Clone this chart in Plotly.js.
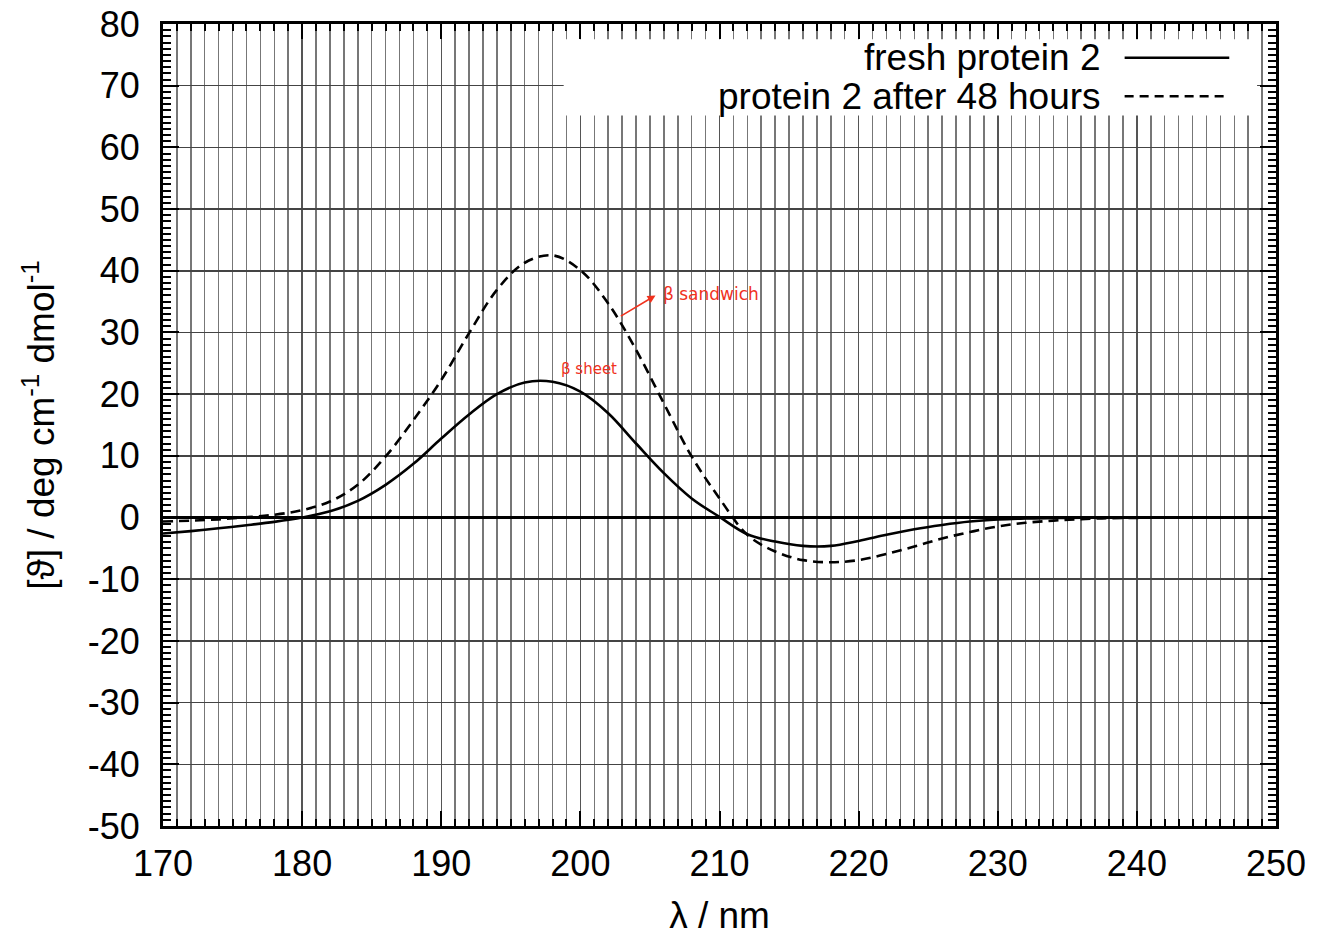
<!DOCTYPE html>
<html>
<head>
<meta charset="utf-8">
<script src="https://cdn.plot.ly/plotly-3.0.1.min.js"></script>
<style>
html,body{margin:0;padding:0;background:#fff;}
#chart{width:1326px;height:939px;}
</style>
</head>
<body>
<div id="chart"></div>
<script>
// Wavelength (nm) and molar ellipticity values
const wavelength = [170,172,174,176,178,180,182,184,186,188,190,192,194,196,198,200,202,204,206,208,210,212,214,216,218,220,222,224,226,228,230,232,234,236,238,240,242,244,246,248,250];
const freshY = [-2.6,-2.2,-1.75,-1.25,-0.7,0.0,1.0,2.7,5.3,8.7,12.8,16.7,20.0,21.9,22.0,20.4,16.9,12.0,7.2,3.1,0.1,-2.7,-3.9,-4.6,-4.6,-3.8,-2.8,-1.9,-1.2,-0.65,-0.32,-0.15,-0.08,-0.03,0,0,0,0,0,0,0];
const agedY = [-0.65,-0.5,-0.3,0.05,0.45,1.2,2.6,5.3,9.9,15.8,22.3,29.9,36.9,41.3,42.5,40.1,34.7,27.2,18.5,9.9,3.1,-2.8,-5.5,-6.9,-7.25,-6.9,-5.9,-4.7,-3.4,-2.35,-1.45,-0.85,-0.5,-0.25,-0.1,-0.05,0,0,0,0,0];

const seriesNames = ["fresh protein 2", "protein 2 after 48 hours"];
const xTickVals = [170,180,190,200,210,220,230,240,250];
const yTickVals = [-50,-40,-30,-20,-10,0,10,20,30,40,50,60,70,80];

// handwritten notes
const noteTexts = ["β sandwich", "β sheet"];
const noteX = [209.4, 200.6];
const noteY = [36.3, 24.0];
const arrowTail = [202.8, 32.5];
const arrowHead = [205.4, 36.0];

const FONT = "Liberation Sans, Arial, Helvetica, sans-serif";
const FS = 36;

const traces = [
  {x: wavelength, y: freshY, name: seriesNames[0], type: "scatter", mode: "lines",
   line: {color: "#000", width: 2.6, shape: "spline", smoothing: 1}},
  {x: wavelength, y: agedY, name: seriesNames[1], type: "scatter", mode: "lines",
   line: {color: "#000", width: 2.6, dash: "10px,6px", shape: "spline", smoothing: 1}}
];

const layout = {
  width: 1326, height: 939,
  margin: {l: 163, r: 50, t: 24, b: 113},
  paper_bgcolor: "#fff", plot_bgcolor: "#fff",
  showlegend: false,
  font: {family: FONT, size: FS, color: "#000"},
  xaxis: {
    range: [170, 250], tickvals: xTickVals, ticktext: xTickVals.map(String),
    ticks: "inside", ticklen: 15, tickwidth: 2, tickcolor: "#000",
    showgrid: true, gridcolor: "#555", gridwidth: 1.5,
    minor: {dtick: 1, ticks: "inside", ticklen: 7, tickwidth: 2, tickcolor: "#000", showgrid: true, gridcolor: "#777", gridwidth: 1.5},
    showline: true, linecolor: "#000", linewidth: 3, mirror: "ticks",
    zeroline: false, ticklabelstandoff: 4,
    tickfont: {family: FONT, size: FS, color: "#000"},
    title: {text: "λ / nm", font: {family: FONT, size: 37, color: "#000"}, standoff: 19}
  },
  yaxis: {
    range: [-50, 80], tickvals: yTickVals, ticktext: yTickVals.map(String),
    ticks: "inside", ticklen: 16, tickwidth: 2, tickcolor: "#000",
    showgrid: true, gridcolor: "#444", gridwidth: 1.5,
    minor: {dtick: 1, ticks: "inside", ticklen: 8, tickwidth: 2, tickcolor: "#000", showgrid: false},
    showline: true, linecolor: "#000", linewidth: 3, mirror: "ticks",
    zeroline: true, zerolinecolor: "#000", zerolinewidth: 2.6,
    ticklabelstandoff: 13,
    tickfont: {family: FONT, size: FS, color: "#000"},
    title: {text: "[ϑ] / deg cm<sup>-1</sup> dmol<sup>-1</sup>", font: {family: FONT, size: 37, color: "#000"}, standoff: 22}
  },
  shapes: [
    // legend box
    {type: "rect", xref: "paper", yref: "paper", x0: 0.360, x1: 0.983, y0: 0.886, y1: 0.981,
     fillcolor: "#fff", line: {width: 0}, layer: "above"},
    {type: "line", xref: "paper", yref: "paper", x0: 0.864, x1: 0.958, y0: 0.958, y1: 0.958,
     line: {color: "#000", width: 2.4}, layer: "above"},
    {type: "line", xref: "paper", yref: "paper", x0: 0.864, x1: 0.958, y0: 0.910, y1: 0.910,
     line: {color: "#000", width: 2.4, dash: "9px,6px"}, layer: "above"}
  ],
  annotations: [
    {xref: "paper", yref: "paper", x: 0.845, y: 0.958, xanchor: "right", yanchor: "middle",
     text: seriesNames[0], showarrow: false, font: {family: FONT, size: 37, color: "#000"}},
    {xref: "paper", yref: "paper", x: 0.845, y: 0.910, xanchor: "right", yanchor: "middle",
     text: seriesNames[1], showarrow: false, font: {family: FONT, size: 37, color: "#000"}},
    {x: arrowHead[0], y: arrowHead[1], ax: arrowTail[0], ay: arrowTail[1], axref: "x", ayref: "y",
     text: "", showarrow: true, arrowhead: 2, arrowsize: 1, arrowwidth: 1.6, arrowcolor: "#f0321e"},
    {x: noteX[0], y: noteY[0], text: noteTexts[0], showarrow: false,
     font: {family: "DejaVu Sans", size: 17, color: "#f0321e"}},
    {x: noteX[1], y: noteY[1], text: noteTexts[1], showarrow: false,
     font: {family: "DejaVu Sans", size: 15, color: "#f0321e"}}
  ]
};

Plotly.newPlot("chart", traces, layout, {displayModeBar: false, staticPlot: true});
</script>
</body>
</html>
